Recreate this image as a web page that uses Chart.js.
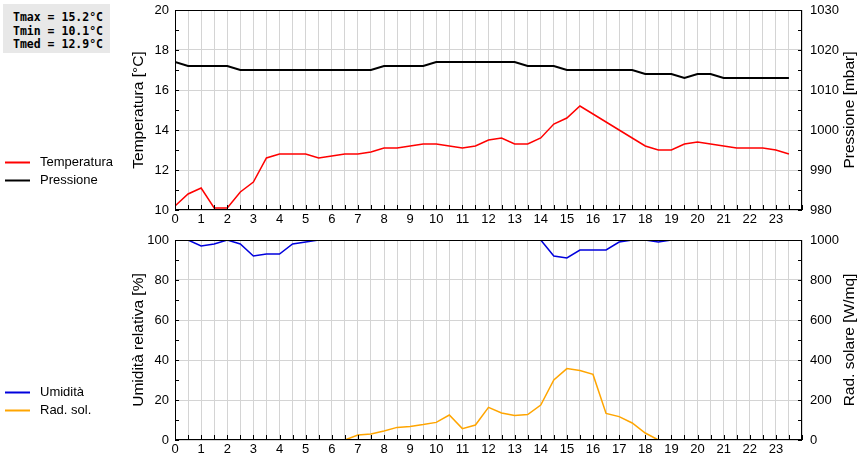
<!DOCTYPE html>
<html>
<head>
<meta charset="utf-8">
<script src="https://cdn.jsdelivr.net/npm/chart.js@4.4.1/dist/chart.umd.min.js"></script>
<style>
  body { margin: 0; background: #fff; width: 860px; height: 460px; overflow: hidden; position: relative; }
  canvas { position: absolute; left: 0; }
  #top { top: 0; }
  #bottom { top: 230px; }
  #stats {
    position: absolute; left: 3px; top: 4px; width: 107px; height: 49px;
    background: #e8e8e8; font: bold 11.5px "DejaVu Sans Mono", monospace;
    line-height: 13.5px; padding: 7px 0 0 10px; box-sizing: border-box; white-space: pre; color: #000;
  }
</style>
</head>
<body>
<canvas id="top" width="860" height="230"></canvas>
<canvas id="bottom" width="860" height="230"></canvas>
<div id="stats"></div>
<script>
const hours = [0, 0.5, 1, 1.5, 2, 2.5, 3, 3.5, 4, 4.5, 5, 5.5, 6, 6.5, 7, 7.5, 8, 8.5, 9, 9.5,
  10, 10.5, 11, 11.5, 12, 12.5, 13, 13.5, 14, 14.5, 15, 15.5, 16, 16.5, 17, 17.5, 18, 18.5, 19, 19.5,
  20, 20.5, 21, 21.5, 22, 22.5, 23, 23.5];

const temperatura = [10.2, 10.8, 11.1, 10.1, 10.1, 10.9, 11.4, 12.6, 12.8, 12.8, 12.8, 12.6, 12.7, 12.8, 12.8, 12.9,
  13.1, 13.1, 13.2, 13.3, 13.3, 13.2, 13.1, 13.2, 13.5, 13.6, 13.3, 13.3, 13.6, 14.3, 14.6, 15.2,
  14.8, 14.4, 14.0, 13.6, 13.2, 13.0, 13.0, 13.3, 13.4, 13.3, 13.2, 13.1, 13.1, 13.1, 13.0, 12.8];

const pressione = [1017, 1016, 1016, 1016, 1016, 1015, 1015, 1015, 1015, 1015, 1015, 1015, 1015, 1015, 1015, 1015,
  1016, 1016, 1016, 1016, 1017, 1017, 1017, 1017, 1017, 1017, 1017, 1016, 1016, 1016, 1015, 1015,
  1015, 1015, 1015, 1015, 1014, 1014, 1014, 1013, 1014, 1014, 1013, 1013, 1013, 1013, 1013, 1013];

const umidita = [100, 100, 97, 98, 100, 98, 92, 93, 93, 98, 99, 100, 100, 100, 100, 100,
  100, 100, 100, 100, 100, 100, 100, 100, 100, 100, 100, 100, 100, 92, 91, 95,
  95, 95, 99, 100, 100, 99, 100, 100, 100, 100, 100, 100, 100, 100, 100, 100];

const radSolare = [0, 0, 0, 0, 0, 0, 0, 0, 0, 0, 0, 0, 0, 0, 25, 30,
  45, 63, 68, 77, 88, 125, 57, 75, 163, 135, 122, 127, 175, 300, 357, 347,
  328, 133, 117, 85, 35, 0, 0, 0, 0, 0, 0, 0, 0, 0, 0, 0];

const tempTicks = [10, 20];
const presTicks = [980, 1030];
const humTicks = [0, 100];
const radTicks = [0, 1000];

// stats box
const tMax = Math.max(...temperatura);
const tMin = Math.min(...temperatura);
const tMed = temperatura.reduce((s, v) => s + v, 0) / temperatura.length;
document.getElementById('stats').textContent =
  'Tmax = ' + tMax.toFixed(1) + '°C\nTmin = ' + tMin.toFixed(1) + '°C\nTmed = ' + tMed.toFixed(1) + '°C';

const FONT = 'Liberation Sans, Arial, sans-serif';
const GRID = '#d4d4d4';

function pts(values) {
  return values.map((v, i) => ({ x: hours[i], y: v }));
}

// fixed axis sizes, no extra label padding above/below the plot
function fixWidth(w) {
  return s => { s.width = w; s.paddingTop = 0; s.paddingBottom = 0; };
}

// inner tick marks, frame, right title (bottom-to-top) and left legend
const framePlugin = {
  id: 'framePlugin',
  afterDraw(chart) {
    const ctx = chart.ctx;
    const a = chart.chartArea;
    ctx.save();
    ctx.strokeStyle = '#000';
    ctx.lineWidth = 1;
    ctx.beginPath();
    const yl = chart.scales.yL, yr = chart.scales.yR, x = chart.scales.x;
    yl.ticks.forEach(t => {
      const p = Math.round(yl.getPixelForValue(t.value)) + 0.5;
      ctx.moveTo(a.left, p); ctx.lineTo(a.left + 4, p);
    });
    yr.ticks.forEach(t => {
      const p = Math.round(yr.getPixelForValue(t.value)) + 0.5;
      ctx.moveTo(a.right - 4, p); ctx.lineTo(a.right, p);
    });
    x.ticks.forEach(t => {
      const p = Math.round(x.getPixelForValue(t.value)) + 0.5;
      ctx.moveTo(p, a.bottom); ctx.lineTo(p, a.bottom - 5);
    });
    ctx.stroke();
    ctx.strokeRect(Math.round(a.left) + 0.5, Math.round(a.top) + 0.5,
      Math.round(a.right - a.left) - 1, Math.round(a.bottom - a.top) - 1);

    // right axis title, same reading direction as the left one
    ctx.fillStyle = '#000';
    ctx.font = '15.5px ' + FONT;
    ctx.textAlign = 'center';
    ctx.textBaseline = 'middle';
    ctx.translate(850, (a.top + a.bottom) / 2);
    ctx.rotate(-Math.PI / 2);
    ctx.fillText(chart.options.rightTitle, 0, 0);
    ctx.setTransform(1, 0, 0, 1, 0, 0);

    // legend
    ctx.font = '13px ' + FONT;
    ctx.textAlign = 'left';
    chart.data.datasets.forEach((ds, i) => {
      const y = Math.round(a.bottom - 48 + i * 18) + 0.5;
      ctx.strokeStyle = ds.borderColor;
      ctx.lineWidth = 2;
      ctx.beginPath();
      ctx.moveTo(5, y); ctx.lineTo(30, y);
      ctx.stroke();
      ctx.fillText(ds.label, 40, y);
    });
    ctx.restore();
  }
};

function makeChart(id, sets, left, right) {
  return new Chart(document.getElementById(id), {
    type: 'line',
    data: {
      datasets: sets.map(s => ({
        label: s.label, data: pts(s.values), yAxisID: s.axis,
        borderColor: s.color, borderWidth: s.width, pointRadius: 0, tension: 0, fill: false
      }))
    },
    options: {
      responsive: false,
      animation: false,
      devicePixelRatio: 1,
      rightTitle: right.title,
      layout: { padding: { left: 127, top: 10, right: 0, bottom: 0 } },
      plugins: { legend: { display: false }, tooltip: { enabled: false } },
      scales: {
        x: {
          type: 'linear', min: 0, max: 24,
          afterFit: s => { s.height = 20; },
          border: { display: false },
          grid: { color: GRID, drawTicks: false },
          ticks: {
            stepSize: 0.5, autoSkip: false, maxRotation: 0, padding: 2,
            color: '#000', font: { family: FONT, size: 13 },
            callback: v => (Number.isInteger(v) && v < 24) ? String(v) : ''
          }
        },
        yL: {
          position: 'left', min: left.range[0], max: left.range[1],
          afterFit: fixWidth(48),
          border: { display: false },
          grid: {
            drawTicks: false,
            color: c => (c.tick && c.tick.value % left.major === 0) ? GRID : 'rgba(0,0,0,0)'
          },
          ticks: {
            stepSize: left.minor, padding: 6, color: '#000', font: { family: FONT, size: 13 },
            callback: v => v % left.major === 0 ? String(v) : ''
          },
          title: { display: true, text: left.title, color: '#000', font: { family: FONT, size: 15.5 }, padding: { top: 2, bottom: 0 } }
        },
        yR: {
          position: 'right', min: right.range[0], max: right.range[1],
          afterFit: fixWidth(58),
          border: { display: false },
          grid: { drawOnChartArea: false, drawTicks: false },
          ticks: {
            stepSize: right.minor, padding: 8, color: '#000', font: { family: FONT, size: 13 },
            callback: v => v % right.major === 0 ? String(v) : ''
          }
        }
      }
    },
    plugins: [framePlugin]
  });
}

makeChart('top', [
  { label: 'Temperatura', values: temperatura, axis: 'yL', color: '#ff0000', width: 1.5 },
  { label: 'Pressione', values: pressione, axis: 'yR', color: '#000000', width: 2 }
], { range: tempTicks, minor: 1, major: 2, title: 'Temperatura [°C]' },
   { range: presTicks, minor: 5, major: 10, title: 'Pressione [mbar]' });

makeChart('bottom', [
  { label: 'Umidità', values: umidita, axis: 'yL', color: '#0000dd', width: 1.5 },
  { label: 'Rad. sol.', values: radSolare, axis: 'yR', color: '#ffa500', width: 1.5 }
], { range: humTicks, minor: 10, major: 20, title: 'Umidità relativa [%]' },
   { range: radTicks, minor: 100, major: 200, title: 'Rad. solare [W/mq]' });
</script>
</body>
</html>
